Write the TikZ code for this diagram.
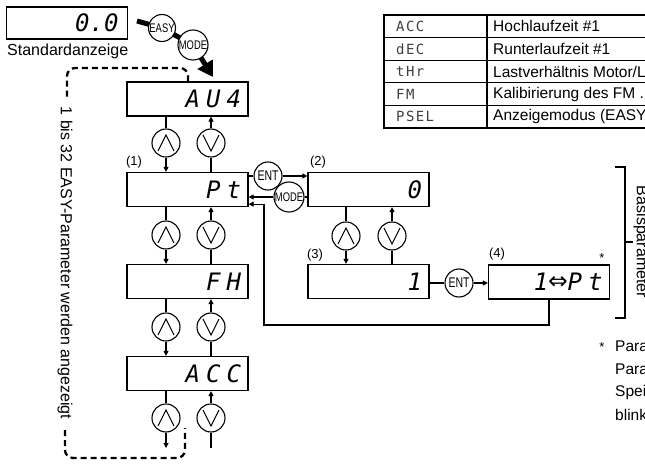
\documentclass[tikz,border=0pt]{standalone}
\usepackage{fontspec}
\setmainfont{Liberation Sans}
\newfontfamily\segfont[LetterSpace=25]{DejaVu Sans Mono}
\newfontfamily\segtight{DejaVu Sans Mono}
\newfontfamily\codefont[LetterSpace=10]{DejaVu Sans Mono}
\newfontfamily\keyfont[FakeStretch=0.75]{Liberation Sans}
\usetikzlibrary{arrows.meta,positioning,calc}
\tikzset{
  dispbox/.style={draw, line width=1.3pt, minimum width=121pt, minimum height=34pt,
    inner sep=0pt, text width=107pt, align=right,
    font=\segfont\fontsize{24}{24}\selectfont\itshape},
  keycirc/.style={circle, draw, line width=1.1pt, fill=white, minimum size=28pt, inner sep=0pt},
  upkey/.style={keycirc, path picture={
      \draw[line width=1.1pt] ([shift={(-8pt,-8pt)}]path picture bounding box.center)
        -- ([shift={(0pt,8pt)}]path picture bounding box.center)
        -- ([shift={(8pt,-8pt)}]path picture bounding box.center);}},
  downkey/.style={keycirc, path picture={
      \draw[line width=1.1pt] ([shift={(-8pt,8pt)}]path picture bounding box.center)
        -- ([shift={(0pt,-8pt)}]path picture bounding box.center)
        -- ([shift={(8pt,8pt)}]path picture bounding box.center);}},
  presskey/.style={keycirc, font=\keyfont\fontsize{12.5}{12.5}\selectfont},
  entkey/.style={keycirc, font=\keyfont\fontsize{14}{14}\selectfont},
  conn/.style={line width=1.1pt},
  arr/.style={conn, -{Triangle[length=5pt,width=5pt]}},
  bigarr/.style={line width=5pt, -{Triangle[length=15pt,width=17pt]}},
  dashline/.style={line width=2.3pt, dash pattern=on 6pt off 4pt, rounded corners=8pt},
  lbl/.style={font=\fontsize{13}{13}\selectfont, inner sep=0pt},
  txt/.style={font=\fontsize{16}{18}\selectfont, inner sep=0pt}
}
\begin{document}
\begin{tikzpicture}[x=1pt, y=-1pt]
  \clip (0,0) rectangle (645,465);
  % standard display and EASY/MODE entry
  \node[dispbox, minimum height=32pt, text width=103pt,
    font=\segtight\fontsize{24}{24}\selectfont\itshape] (std) at (67,23) {0.0};
  \node[txt, anchor=west] (stdlbl) at (7,51) {Standardanzeige};
  \coordinate (tail) at (137,21);
  \coordinate (easyc) at (162,28);
  \coordinate (modec) at (193,45);
  \coordinate (tip) at (213,77);
  \draw[bigarr] (tail) -- (easyc) -- (modec) -- (tip);
  \node[presskey, minimum size=27pt] (easy) at (easyc) {EASY};
  \node[presskey, minimum size=30pt] (mode) at (modec) {MODE};

  % EASY parameter column
  \node[dispbox] (au) at (187.5,99) {AU4};
  \node[dispbox] (pt) at (187.5,189.5) {Pt};
  \node[dispbox] (fh) at (187.5,281.5) {FH};
  \node[dispbox] (acc) at (187.5,373.5) {ACC};
  \node[lbl] (l1) at (134,162) {(1)};
  \foreach \a/\b/\y [count=\i] in {au/pt/143, pt/fh/235, fh/acc/327} {
    \node[upkey] (u\i) at (166,\y) {};
    \node[downkey] (d\i) at (211,\y) {};
    \draw[conn] (\a.south -| u\i) -- (u\i);
    \draw[arr] (u\i) -- (\b.north -| u\i);
    \draw[conn] (\b.north -| d\i) -- (d\i);
    \draw[arr] (d\i) -- (\a.south -| d\i);
  }
  \node[upkey] (u4) at (166,418) {};
  \node[downkey] (d4) at (211,418) {};
  \coordinate (uend) at (166,448);
  \coordinate (dend) at (211,448);
  \draw[conn] (acc.south -| u4) -- (u4);
  \draw[arr] (u4) -- (uend);
  \draw[conn] (dend) -- (d4);
  \draw[arr] (d4) -- (acc.south -| d4);

  % loop of the EASY parameters
  \coordinate (dtop) at (67,68);
  \draw[dashline] (au.north -| 188,0) |- (dtop) -- (67,98);
  \draw[dashline] (65,430) |- (185,458) -- (185,428);
  \node[txt, rotate=-90] (loopnote) at (65,263) {1 bis 32 EASY-Parameter werden angezeigt};

  % setting Pt
  \node[dispbox] (p2) at (368.5,189.5) {0};
  \node[dispbox] (p3) at (368.5,281.5) {1};
  \node[dispbox] (p4) at (549,282) {1{\fontsize{32}{24}\selectfont⇔}Pt};
  \node[lbl] (l2) at (318,162) {(2)};
  \node[lbl] (l3) at (315,255) {(3)};
  \node[lbl] (l4) at (497,254) {(4)};
  \node[lbl] (star) at (602,258) {*};
  \node[entkey] (ent1) at (268,176) {ENT};
  \node[presskey, minimum size=30pt] (mode2) at (289,197) {MODE};
  \draw[conn] (pt.east |- ent1) -- (ent1);
  \draw[arr] (ent1) -- (p2.west |- ent1);
  \draw[conn] (p2.west |- mode2) -- (mode2);
  \draw[arr] (mode2) -- (pt.east |- mode2);
  \node[upkey] (u5) at (346,236) {};
  \node[downkey] (d5) at (392,236) {};
  \draw[conn] (p2.south -| u5) -- (u5);
  \draw[arr] (u5) -- (p3.north -| u5);
  \draw[conn] (p3.north -| d5) -- (d5);
  \draw[arr] (d5) -- (p2.south -| d5);
  \node[entkey] (ent2) at (459,283) {ENT};
  \draw[conn] (p3.east |- ent2) -- (ent2);
  \draw[arr] (ent2) -- (p4.west |- ent2);
  \coordinate (back) at (264,325);
  \draw[arr] (p4.south) |- (back) |- ([yshift=3pt]pt.south east);

  % Basisparameter bracket
  \draw[conn] (615,167) -- (625,167) -- (625,318) -- (615,318);
  \draw[conn] (625,242) -- (633,242);
  \node[txt, rotate=-90] (basis) at (641,242) {Basisparameter};

  % parameter table
  \draw[conn] (384,15) rectangle (660,128);
  \draw[conn] (487,15) -- (487,128);
  \foreach \r in {1,...,4}
    \draw[conn] (384,15+22.6*\r) -- (660,15+22.6*\r);
  \foreach \c/\t [count=\i] in {ACC/{Hochlaufzeit \#1}, dEC/{Runterlaufzeit \#1},
      tHr/{Lastverhältnis Motor/L}, FM/{Kalibirierung des FM .}, PSEL/{Anzeigemodus (EASY}} {
    \node[anchor=west, inner sep=0pt, text=black!75, font=\codefont\fontsize{14}{14}\selectfont]
      (code\i) at (396,15+22.6*\i-11.3) {\c};
    \node[anchor=west, font=\fontsize{15.5}{18}\selectfont, inner sep=0pt]
      (desc\i) at (493,15+22.6*\i-11.3) {\t};
  }

  % footnote
  \node[lbl] (fstar) at (602,347) {*};
  \foreach \w/\y in {Para/346, Para/369, Spei/392, blink/415}
    \node[anchor=west, font=\fontsize{15.5}{18}\selectfont, inner sep=0pt] at (615,\y) {\w};
\end{tikzpicture}
\end{document}
